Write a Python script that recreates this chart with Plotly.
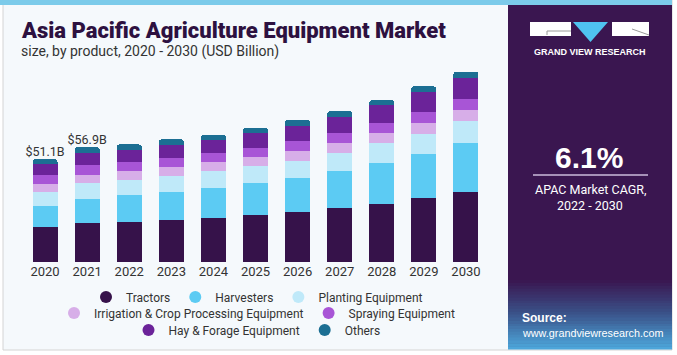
import plotly.graph_objects as go

# ---------------- data ----------------
years = ["2020", "2021", "2022", "2023", "2024", "2025", "2026", "2027", "2028", "2029", "2030"]
tractors = [17.2, 19.5, 19.8, 20.8, 21.8, 23.5, 24.8, 26.9, 28.9, 31.7, 34.7]
harvesters = [10.6, 11.7, 13.4, 13.9, 14.9, 15.5, 16.7, 18.0, 20.0, 21.8, 24.1]
planting = [6.8, 7.8, 7.3, 7.8, 8.3, 8.4, 8.4, 9.1, 9.9, 9.9, 11.1]
irrigation = [4.1, 4.3, 4.6, 4.6, 4.5, 4.5, 5.0, 4.8, 5.0, 5.6, 5.3]
spraying = [4.5, 5.0, 4.5, 4.5, 4.5, 4.8, 5.0, 5.1, 5.0, 5.5, 5.5]
hay = [5.3, 6.0, 6.1, 6.6, 6.6, 7.3, 7.6, 7.9, 8.9, 9.8, 10.6]
others = [2.6, 2.6, 2.6, 2.6, 2.6, 2.5, 3.0, 3.0, 2.6, 2.8, 3.1]

series_names = ["Tractors", "Harvesters", "Planting Equipment",
                "Irrigation & Crop Processing Equipment", "Spraying Equipment",
                "Hay & Forage Equipment", "Others"]
series_values = [tractors, harvesters, planting, irrigation, spraying, hay, others]
series_colors = ["#36124a", "#5ccbf3", "#bfe9f9", "#d7aee8", "#a855d6", "#6b2399", "#1c6f93"]
legend_rows = ["legend", "legend", "legend", "legend2", "legend2", "legend3", "legend3"]

label_years = ["2020", "2021"]
label_texts = ["$51.1B", "$56.9B"]
cagr_text = "6.1%"
cagr_caption = ["APAC Market CAGR,", "2022 - 2030"]

# ---------------- geometry helpers ----------------
W, H = 677, 355
ML, MR, MT, MB = 2, 190, 65, 93
PW, PH = W - ML - MR, H - MT - MB
CAT_W = 42.09                      # pixel width of one category slot
X_START = -0.5 - (24 - ML) / CAT_W  # left end of category range


def px(x):
    return (x - ML) / PW


def py(y):
    return 1 - (y - MT) / PH


FONT = "Roboto, Liberation Sans, Arial, sans-serif"
SANS = "Liberation Sans, Arial, sans-serif"

fig = go.Figure()

for name, vals, col, lg in zip(series_names, series_values, series_colors, legend_rows):
    fig.add_trace(go.Bar(x=years, y=vals, name=name, marker_color=col,
                         marker_line_width=0, legendgroup=name, showlegend=False))
    fig.add_trace(go.Scatter(x=[None], y=[None], mode="markers", name=name,
                             marker=dict(color=col, size=8.5, symbol="circle"),
                             legendgroup=name, legend=lg, showlegend=True))

totals = [round(sum(v), 1) for v in zip(*series_values)]
label_totals = [totals[years.index(y)] for y in label_years]
fig.add_trace(go.Scatter(x=label_years, y=label_totals, mode="text", text=label_texts,
                         textposition="top center", showlegend=False, hoverinfo="skip",
                         textfont=dict(family=FONT, size=12.5, color="#333333"), cliponaxis=False))

annotations = []
# Title / subtitle
annotations.append(dict(x=px(18.5), y=py(30), xref="paper", yref="paper", xanchor="left",
                        yanchor="middle", showarrow=False,
                        text="Asia Pacific Agriculture Equipment Market",
                        font=dict(family=FONT, size=22, color="#2d1140", weight=900)))
annotations.append(dict(x=px(18.5), y=py(51), xref="paper", yref="paper", xanchor="left",
                        yanchor="middle", showarrow=False,
                        text="size, by product, 2020 - 2030 (USD Billion)",
                        font=dict(family=FONT, size=14, color="#333333")))

# Right panel texts
annotations += [
    dict(x=px(590), y=py(52), xref="paper", yref="paper", showarrow=False, xanchor="center",
         yanchor="middle", text="GRAND VIEW RESEARCH",
         font=dict(family=SANS, size=9, color="#ffffff", weight=700)),
    dict(x=px(589), y=py(157), xref="paper", yref="paper", showarrow=False, xanchor="center",
         yanchor="middle", text=cagr_text,
         font=dict(family=SANS, size=30, color="#ffffff", weight=700)),
    dict(x=px(590), y=py(189), xref="paper", yref="paper", showarrow=False, xanchor="center",
         yanchor="middle", text=cagr_caption[0],
         font=dict(family=FONT, size=12.5, color="#ffffff")),
    dict(x=px(590), y=py(205), xref="paper", yref="paper", showarrow=False, xanchor="center",
         yanchor="middle", text=cagr_caption[1],
         font=dict(family=FONT, size=12.5, color="#ffffff")),
    dict(x=px(520), y=py(318), xref="paper", yref="paper", showarrow=False, xanchor="left",
         yanchor="middle", text="Source:",
         font=dict(family=SANS, size=12, color="#ffffff", weight=700)),
    dict(x=px(520), y=py(333), xref="paper", yref="paper", showarrow=False, xanchor="left",
         yanchor="middle", text="www.grandviewresearch.com",
         font=dict(family=SANS, size=10.8, color="#ffffff")),
]


def rect(x0, y0, x1, y1, fill, line=None, layer="below"):
    d = dict(type="rect", xref="paper", yref="paper", x0=px(x0), x1=px(x1), y0=py(y0), y1=py(y1),
             fillcolor=fill, layer=layer, line=dict(width=0))
    if line:
        d["line"] = line
    return d


shapes = []
# card background and borders
shapes.append(rect(3, 0, 672, 350, "#f5f9fc", line=dict(color="#d4d4d4", width=1)))
shapes.append(rect(0, 0, 672, 5, "#7ccbea"))
# right panel
shapes.append(rect(508, 5, 672, 349, "#3a1650"))
# gradient at bottom of panel
stops = [(280, (58, 22, 80)), (312, (58, 80, 135)), (349, (78, 170, 222))]
n = 24
for k in range(n):
    y0 = 280 + (349 - 280) * k / n
    y1 = 280 + (349 - 280) * (k + 1) / n
    ym = (y0 + y1) / 2
    for (ya, ca), (yb, cb) in zip(stops[:-1], stops[1:]):
        if ya <= ym <= yb:
            t = (ym - ya) / (yb - ya)
            c = tuple(int(ca[j] + (cb[j] - ca[j]) * t) for j in range(3))
            break
    shapes.append(rect(508, y0, 672, y1 + 0.5, "rgb(%d,%d,%d)" % c))

# logo
shapes.append(rect(530, 22, 571, 36, "#ffffff", layer="above"))
shapes.append(rect(612, 22, 649, 36, "#ffffff", layer="above"))
shapes.append(dict(type="path", xref="paper", yref="paper", layer="above",
                   path="M %f,%f L %f,%f L %f,%f Z" % (px(573), py(22), px(608), py(22), px(590.5), py(42)),
                   fillcolor="#4fc3f0", line=dict(width=0)))
shapes.append(dict(type="line", xref="paper", yref="paper", layer="above",
                   x0=px(547), x1=px(571), y0=py(31), y1=py(31), line=dict(color="#9a9a9a", width=1)))
shapes.append(dict(type="line", xref="paper", yref="paper", layer="above",
                   x0=px(547), x1=px(547), y0=py(31), y1=py(35), line=dict(color="#9a9a9a", width=1)))
shapes.append(dict(type="line", xref="paper", yref="paper", layer="above",
                   x0=px(632), x1=px(649), y0=py(29), y1=py(35), line=dict(color="#9a9a9a", width=1)))
# separator line under CAGR
shapes.append(dict(type="line", xref="paper", yref="paper", layer="above",
                   x0=px(533), x1=px(648), y0=py(175), y1=py(175),
                   line=dict(color="#cbbbdb", width=1.5)))

legend_common = dict(orientation="h", xanchor="center", yanchor="middle", x=px(257),
                     bgcolor="rgba(0,0,0,0)", font=dict(family=FONT, size=12, color="#333333"),
                     itemsizing="constant", itemwidth=30, tracegroupgap=0)

fig.update_layout(
    width=W, height=H,
    margin=dict(l=ML, r=MR, t=MT, b=MB, pad=0),
    paper_bgcolor="#ffffff", plot_bgcolor="rgba(0,0,0,0)",
    barmode="stack", bargap=0.405, barcornerradius=3,
    xaxis=dict(type="category", range=[X_START, 10.5], showgrid=False, zeroline=False, showline=False,
               ticks="", tickfont=dict(family=FONT, size=13, color="#333333"), fixedrange=True),
    yaxis=dict(range=[0, 97.7], visible=False, fixedrange=True),
    legend=dict(y=py(297), **legend_common),
    legend2=dict(y=py(313), **legend_common),
    legend3=dict(y=py(330), **legend_common),
    shapes=shapes,
    annotations=annotations,
    showlegend=True,
)

fig.write_html("out.html", config={"displayModeBar": False},
               post_script="document.body.style.margin='0px';document.body.style.padding='0px';")
